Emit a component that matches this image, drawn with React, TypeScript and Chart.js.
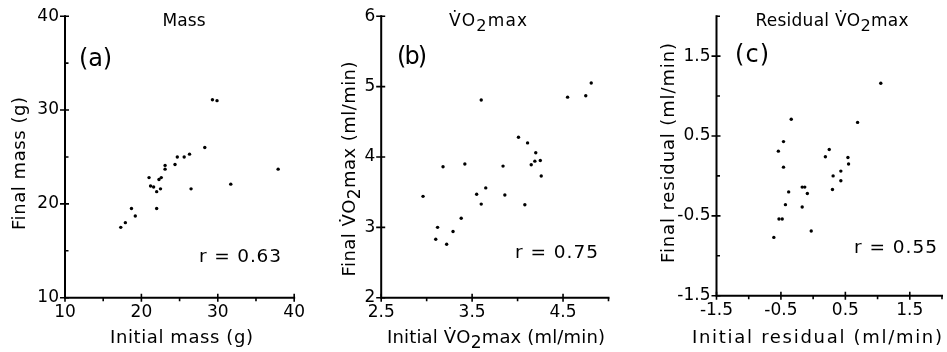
import React, { useEffect, useRef } from 'react';
import { Chart, registerables } from 'chart.js';

Chart.register(...registerables);

// ---------- data ----------
const massInitial = [17.3, 17.9, 18.7, 19.2, 21.0, 21.2, 21.6, 22.0, 22.5, 22.0, 22.3, 22.6, 23.1, 23.1, 24.4, 24.7, 25.6, 26.3, 26.5, 28.3, 31.7, 37.9, 29.3, 29.9];
const massFinal = [17.5, 18.0, 19.5, 18.7, 22.8, 21.9, 21.8, 21.3, 21.6, 19.5, 22.6, 22.8, 24.1, 23.7, 24.2, 25.0, 25.0, 25.3, 21.6, 26.0, 22.1, 23.7, 31.1, 31.0];

const vo2Initial = [2.96, 3.18, 3.12, 3.10, 3.22, 3.29, 3.38, 3.42, 3.55, 3.65, 3.60, 3.60, 3.84, 3.86, 4.01, 4.08, 4.11, 4.20, 4.15, 4.19, 4.25, 4.26, 4.55, 4.75, 4.81];
const vo2Final = [3.44, 3.86, 3.00, 2.83, 2.76, 2.94, 3.13, 3.90, 3.47, 3.56, 3.33, 4.81, 3.87, 3.46, 4.28, 3.32, 4.20, 4.06, 3.89, 3.94, 3.95, 3.73, 4.85, 4.87, 5.05];

const residInitial = [-0.61, -0.53, -0.48, -0.54, -0.46, -0.46, -0.34, -0.38, -0.43, -0.17, -0.13, -0.09, -0.17, -0.03, 0.19, 0.25, 0.31, 0.30, 0.43, 0.43, 0.54, 0.55, 0.69, 1.05];
const residFinal = [-0.77, -0.54, -0.54, 0.31, 0.43, 0.11, 0.71, -0.20, -0.36, -0.14, -0.14, -0.22, -0.39, -0.69, 0.24, 0.33, 0.00, -0.17, 0.06, -0.06, 0.23, 0.15, 0.67, 1.16];

const massTickLabels = [10, 20, 30, 40];
const vo2XTickLabels = [2.5, 3.5, 4.5];
const vo2YTickLabels = [2, 3, 4, 5, 6];
const residTickLabels = [-1.5, -0.5, 0.5, 1.5];
const rValues = ['0.63', '0.75', '0.55'];
const panelLetters = ['(a)', '(b)', '(c)'];

// ---------- helpers ----------
const FONT = '"DejaVu Sans", sans-serif';
const DOTV = 'V\u0307';

type Seg = { t: string; dy?: number; sc?: number };
type TextSpec = { segs: Seg[]; x: number; y: number; size: number; width?: number; align?: 'left' | 'center'; rot?: boolean };

const plain = (t: string): Seg[] => [{ t }];
const vo2 = (pre: string, post: string): Seg[] => [{ t: pre + DOTV + 'O' }, { t: '2', dy: 0.3, sc: 0.95 }, { t: 'max' + post }];

function countChars(t: string) {
  return Array.from(t.replace(/[\u0300-\u036f]/g, '')).length;
}

function drawText(ctx: CanvasRenderingContext2D, spec: TextSpec, offX: number) {
  ctx.save();
  ctx.fillStyle = '#000';
  ctx.textAlign = 'left';
  ctx.textBaseline = 'alphabetic';
  (ctx as any).letterSpacing = '0px';
  const widths: number[] = [];
  const counts: number[] = [];
  let w0 = 0;
  let n = 0;
  for (const s of spec.segs) {
    ctx.font = `${spec.size * (s.sc || 1)}px ${FONT}`;
    const w = ctx.measureText(s.t).width;
    widths.push(w);
    const c = countChars(s.t);
    counts.push(c);
    w0 += w;
    n += c;
  }
  const sp = spec.width ? (spec.width - w0) / Math.max(n - 1, 1) : 0;
  const total = w0 + sp * (n - 1);
  ctx.translate(spec.x - offX, spec.y);
  if (spec.rot) ctx.rotate(-Math.PI / 2);
  let cx = spec.align === 'left' ? 0 : -total / 2;
  (ctx as any).letterSpacing = `${sp}px`;
  spec.segs.forEach((s, i) => {
    ctx.font = `${spec.size * (s.sc || 1)}px ${FONT}`;
    ctx.fillText(s.t, cx, (s.dy || 0) * spec.size);
    cx += widths[i] + sp * counts[i];
  });
  ctx.restore();
}

const near = (v: number, list: number[]) => list.some((l) => Math.abs(l - v) < 1e-6);

type AxisSpec = { min: number; max: number; step: number; labels: number[]; fmt: (v: number) => string };
type PanelSpec = {
  left: number;
  w: number;
  area: { l: number; r: number; t: number; b: number };
  x: AxisSpec;
  y: AxisSpec;
  xs: number[];
  ys: number[];
  texts: TextSpec[];
};

const int = (v: number) => String(Math.round(v));
const one = (v: number) => v.toFixed(1);

const panels: PanelSpec[] = [
  {
    left: 0,
    w: 310,
    area: { l: 65, r: 296, t: 15.7, b: 297.7 },
    x: { min: 10, max: 40, step: 5, labels: massTickLabels, fmt: int },
    y: { min: 10, max: 40, step: 5, labels: massTickLabels, fmt: int },
    xs: massInitial,
    ys: massFinal,
    texts: [
      { segs: plain('Mass'), x: 184, y: 26, size: 17, width: 43 },
      { segs: plain(panelLetters[0]), x: 79, y: 66, size: 24, width: 33, align: 'left' },
      { segs: plain('r = ' + rValues[0]), x: 199, y: 261.7, size: 18.5, width: 82, align: 'left' },
      { segs: plain('Initial mass (g)'), x: 181.5, y: 343, size: 18, width: 143 },
      { segs: plain('Final mass (g)'), x: 25, y: 163.5, size: 18, width: 133, rot: true },
    ],
  },
  {
    left: 310,
    w: 320,
    area: { l: 381.2, r: 608.5, t: 15.2, b: 297.7 },
    x: { min: 2.5, max: 5, step: 0.5, labels: vo2XTickLabels, fmt: one },
    y: { min: 2, max: 6, step: 1, labels: vo2YTickLabels, fmt: int },
    xs: vo2Initial,
    ys: vo2Final,
    texts: [
      { segs: vo2('', ''), x: 488, y: 26, size: 17, width: 78 },
      { segs: plain(panelLetters[1]), x: 397, y: 64, size: 24, width: 30, align: 'left' },
      { segs: plain('r = ' + rValues[1]), x: 515, y: 258.3, size: 18.5, width: 83, align: 'left' },
      { segs: vo2('Initial ', ' (ml/min)'), x: 496, y: 343, size: 18, width: 218 },
      { segs: vo2('Final ', ' (ml/min)'), x: 355, y: 169, size: 18, width: 215, rot: true },
    ],
  },
  {
    left: 627,
    w: 320,
    area: { l: 716.5, r: 946.5, t: 13.3, b: 295.7 },
    x: { min: -1.5, max: 2, step: 0.5, labels: residTickLabels, fmt: one },
    y: { min: -1.5, max: 2, step: 0.5, labels: residTickLabels, fmt: one },
    xs: residInitial,
    ys: residFinal,
    texts: [
      { segs: vo2('Residual ', ''), x: 832, y: 26, size: 17, width: 153 },
      { segs: plain(panelLetters[2]), x: 735, y: 62, size: 24, width: 34, align: 'left' },
      { segs: plain('r = ' + rValues[2]), x: 854, y: 253, size: 18.5, width: 83, align: 'left' },
      { segs: plain('Initial residual (ml/min)'), x: 817, y: 343, size: 18, width: 250 },
      { segs: plain('Final residual (ml/min)'), x: 673.7, y: 153, size: 18, width: 220, rot: true },
    ],
  },
];

function Panel({ p }: { p: PanelSpec }) {
  const ref = useRef<HTMLCanvasElement>(null);
  useEffect(() => {
    const canvas = ref.current!;
    const H = 352;
    const areaLeft = p.area.l - p.left;
    const areaRight = p.area.r - p.left;
    const axesPlugin = {
      id: 'axesAndText',
      afterDraw(chart: any) {
        const ctx: CanvasRenderingContext2D = chart.ctx;
        const a = chart.chartArea;
        const xs = chart.scales.x;
        const ys = chart.scales.y;
        ctx.save();
        ctx.strokeStyle = '#000';
        ctx.lineCap = 'square';
        ctx.lineWidth = 2;
        ctx.beginPath();
        ctx.moveTo(a.left, a.top);
        ctx.lineTo(a.left, a.bottom);
        ctx.lineTo(a.right, a.bottom);
        ctx.stroke();
        ctx.lineCap = 'butt';
        ctx.lineWidth = 1.6;
        ctx.beginPath();
        xs.ticks.forEach((t: any) => {
          const px = xs.getPixelForValue(t.value);
          const major = near(t.value, p.x.labels);
          ctx.moveTo(px, a.bottom - (major ? 4 : 0));
          ctx.lineTo(px, a.bottom + (major ? 4 : 3.5));
        });
        ys.ticks.forEach((t: any) => {
          const py = ys.getPixelForValue(t.value);
          const major = near(t.value, p.y.labels);
          ctx.moveTo(a.left - (major ? 5 : 0), py);
          ctx.lineTo(a.left + (major ? 4 : 3.5), py);
        });
        ctx.stroke();
        ctx.restore();
        p.texts.forEach((s) => drawText(ctx, s, p.left));
      },
    };

    const chart = new Chart(canvas, {
      type: 'scatter',
      data: {
        datasets: [
          {
            data: p.xs.map((v, i) => ({ x: v, y: p.ys[i] })),
            backgroundColor: '#000',
            borderColor: '#000',
            borderWidth: 0,
            pointRadius: 1.7,
            pointHoverRadius: 1.7,
          },
        ],
      },
      options: {
        animation: false,
        responsive: false,
        devicePixelRatio: 1,
        layout: { padding: { left: 0, top: p.area.t, right: p.w - areaRight, bottom: 0 } },
        plugins: { legend: { display: false }, tooltip: { enabled: false }, title: { display: false } },
        events: [],
        scales: {
          x: {
            type: 'linear',
            min: p.x.min,
            max: p.x.max,
            grid: { display: false, drawTicks: false },
            border: { display: false },
            afterFit: (s: any) => {
              s.height = H - p.area.b;
            },
            ticks: {
              stepSize: p.x.step,
              autoSkip: false,
              maxRotation: 0,
              padding: 5,
              color: '#000',
              font: { family: FONT, size: 17 },
              callback: (v: any) => (near(Number(v), p.x.labels) ? p.x.fmt(Number(v)) : ''),
            },
          },
          y: {
            type: 'linear',
            min: p.y.min,
            max: p.y.max,
            grid: { display: false, drawTicks: false },
            border: { display: false },
            afterFit: (s: any) => {
              s.width = areaLeft;
            },
            ticks: {
              stepSize: p.y.step,
              autoSkip: false,
              padding: 6,
              color: '#000',
              font: { family: FONT, size: 17 },
              callback: (v: any) => (near(Number(v), p.y.labels) ? p.y.fmt(Number(v)) : ''),
            },
          },
        },
      },
      plugins: [axesPlugin],
    } as any);
    return () => chart.destroy();
  }, [p]);
  return (
    <canvas
      ref={ref}
      width={p.w}
      height={352}
      style={{ position: 'absolute', left: p.left, top: 0, width: p.w, height: 352 }}
    />
  );
}

export default function App() {
  return (
    <div style={{ position: 'absolute', left: 0, top: 0, width: 947, height: 352, overflow: 'hidden', background: '#fff' }}>
      {panels.map((p, i) => (
        <Panel key={i} p={p} />
      ))}
    </div>
  );
}
